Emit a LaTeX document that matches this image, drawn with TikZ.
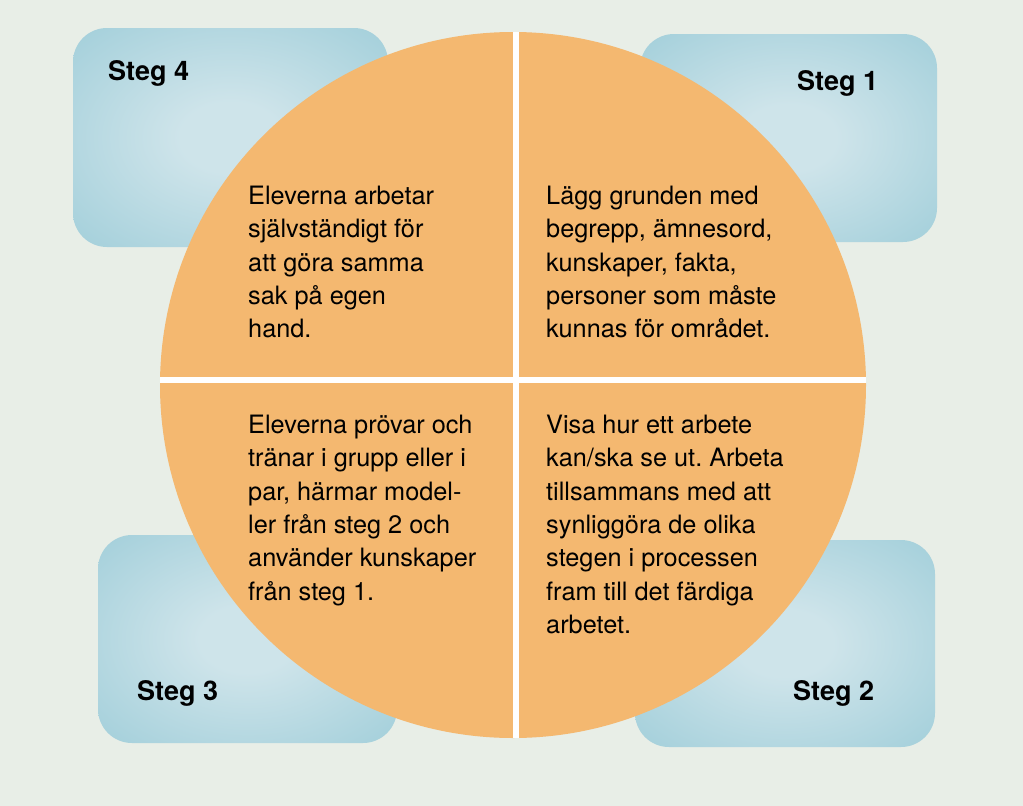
\documentclass[tikz,border=0pt]{standalone}
\usepackage{fontspec}
\setmainfont{TeX Gyre Heros}
\usetikzlibrary{positioning}
\frenchspacing

\definecolor{bgcol}{HTML}{E8EEE7}
\definecolor{wheelorange}{HTML}{F4B870}
\definecolor{boxin}{HTML}{CEE4EA}
\definecolor{boxout}{HTML}{8CC4D2}
\pgfdeclareradialshading{boxglow}{\pgfpoint{0bp}{0bp}}{color(0bp)=(boxin); color(8bp)=(boxin); color(50bp)=(boxout); color(75bp)=(boxout)}

\begin{document}
\begin{tikzpicture}[x=1pt, y=-1pt,
    stegbox/.style={rectangle, rounded corners=34pt, shading=boxglow, inner sep=0pt},
    steglabel/.style={font=\fontsize{27}{32}\selectfont\bfseries, inner sep=0pt, anchor=base west},
    bodytext/.style={font=\fontsize{25.3}{33.3}\selectfont, align=left, inner sep=0pt, anchor=north west},
    gapline/.style={white, line width=6.5pt}]
    % background
    \fill[bgcol] (0,0) rectangle (1023,806);

    % step boxes behind the wheel
    \node[stegbox, minimum width=315pt, minimum height=219pt] (box4) at (230.5,137.5) {};
    \node[stegbox, minimum width=297pt, minimum height=208pt] (box1) at (788.5,138) {};
    \node[stegbox, minimum width=299pt, minimum height=208pt] (box3) at (247.5,639) {};
    \node[stegbox, minimum width=300pt, minimum height=207pt] (box2) at (785,643.5) {};

    \node[steglabel] (lbl4) at (108,80) {Steg 4};
    \node[steglabel] (lbl1) at (797,90) {Steg 1};
    \node[steglabel] (lbl3) at (137,700) {Steg 3};
    \node[steglabel] (lbl2) at (793,700) {Steg 2};

    % the wheel
    \node[circle, fill=wheelorange, minimum size=706pt, inner sep=0pt] (wheel) at (513,385) {};

    % white cross between the quarters
    \draw[gapline] ([xshift=3pt]wheel.north) -- ([xshift=3pt]wheel.south);
    \draw[gapline] ([yshift=5pt]wheel.west) -- ([yshift=5pt]wheel.east);

    % texts in the quarters
    \node[bodytext] (txt4) at (248,186) {Eleverna arbetar\\självständigt för\\att göra samma\\sak på egen\\hand.};
    \node[bodytext] (txt1) at (546,186) {Lägg grunden med\\begrepp, ämnesord,\\kunskaper, fakta,\\personer som måste\\kunnas för området.};
    \node[bodytext] (txt3) at (248,415) {Eleverna prövar och\\tränar i grupp eller i\\par, härmar model-\\ler från steg 2 och\\använder kunskaper\\från steg 1.};
    \node[bodytext] (txt2) at (546,415) {Visa hur ett arbete\\kan/ska se ut. Arbeta\\tillsammans med att\\synliggöra de olika\\stegen i processen\\fram till det färdiga\\arbetet.};
\end{tikzpicture}
\end{document}
